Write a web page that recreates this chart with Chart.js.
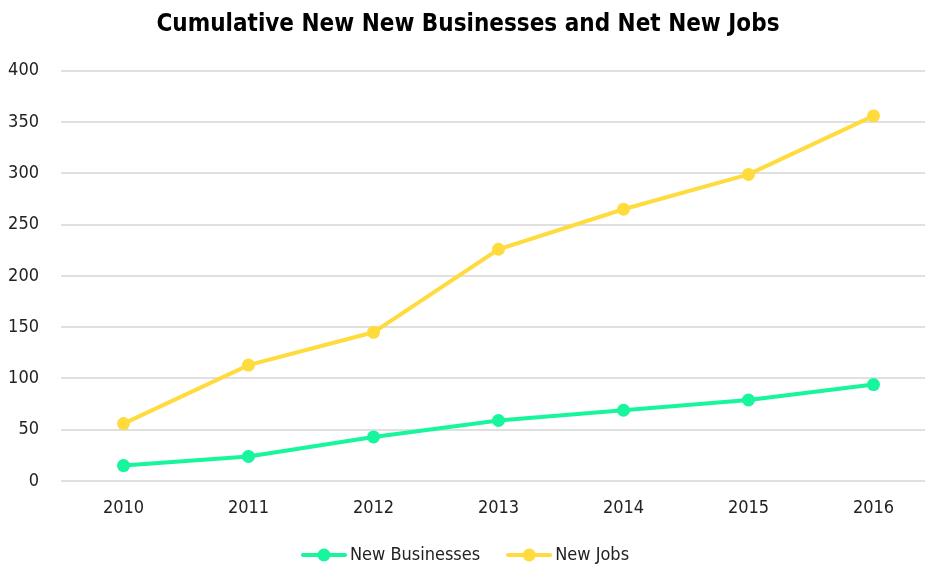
<!DOCTYPE html>
<html>
<head>
<meta charset="utf-8">
<script src="https://cdn.jsdelivr.net/npm/chart.js@4/dist/chart.umd.min.js"></script>
<style>
  html, body { margin: 0; padding: 0; background: #fff; }
  #wrap { width: 925px; height: 567px; overflow: hidden; }
  canvas { display: block; }
</style>
</head>
<body>
<div id="wrap"><canvas id="chart" width="960" height="567"></canvas></div>
<script>
const years = ["2010", "2011", "2012", "2013", "2014", "2015", "2016"];
const newBusinesses = [15, 24, 43, 59, 69, 79, 94];
const newJobs = [56, 113, 145, 226, 265, 299, 356];

const GREEN = "#17F59D";
const YELLOW = "#FFDB3E";
const FONT = "'DejaVu Sans Condensed', sans-serif";

// legend icon: short line with a dot in the middle
const legendIcon = (color) => {
  const c = document.createElement("canvas");
  c.width = 46; c.height = 16;
  const g = c.getContext("2d");
  g.strokeStyle = color;
  g.lineWidth = 4;
  g.lineCap = "round";
  g.beginPath(); g.moveTo(2, 8); g.lineTo(44, 8); g.stroke();
  g.fillStyle = color;
  g.beginPath(); g.arc(23, 8, 6.5, 0, Math.PI * 2); g.fill();
  return c;
};

new Chart(document.getElementById("chart"), {
  type: "line",
  data: {
    labels: years,
    datasets: [
      {
        label: "New Businesses",
        data: newBusinesses,
        borderColor: GREEN,
        backgroundColor: GREEN,
        borderWidth: 4,
        pointRadius: 6.5,
        pointBackgroundColor: GREEN,
        pointBorderWidth: 0,
        tension: 0
      },
      {
        label: "New Jobs",
        data: newJobs,
        borderColor: YELLOW,
        backgroundColor: YELLOW,
        borderWidth: 4,
        pointRadius: 6.5,
        pointBackgroundColor: YELLOW,
        pointBorderWidth: 0,
        tension: 0
      }
    ]
  },
  options: {
    responsive: false,
    animation: false,
    layout: { padding: { right: 24, top: 0, bottom: -7 } },
    plugins: {
      title: {
        display: true,
        text: "Cumulative New New Businesses and Net New Jobs",
        color: "#000",
        font: { family: FONT, size: 24, weight: "bold" },
        padding: { top: 10, bottom: 32 }
      },
      legend: {
        position: "bottom",
        labels: {
          color: "#222",
          font: { family: FONT, size: 18 },
          usePointStyle: true,
          pointStyleWidth: 34,
          boxHeight: 16,
          padding: 32,
          generateLabels: (chart) => chart.data.datasets.map((ds, i) => ({
            text: ds.label,
            pointStyle: legendIcon(ds.borderColor),
            fillStyle: ds.borderColor,
            strokeStyle: ds.borderColor,
            lineWidth: 0,
            hidden: false,
            datasetIndex: i,
            fontColor: "#222"
          }))
        }
      },
      tooltip: { enabled: false }
    },
    scales: {
      x: {
        offset: true,
        afterFit: (s) => { s.height = 33; },
        grid: { display: false, drawTicks: false },
        border: { display: false },
        ticks: { color: "#222", font: { family: FONT, size: 18 }, padding: 17 }
      },
      y: {
        min: 0,
        max: 400,
        afterFit: (s) => { s.width = 61; },
        grid: { color: "#e0e0e0", lineWidth: 2, drawTicks: false },
        border: { display: false },
        ticks: { stepSize: 50, color: "#222", font: { family: FONT, size: 18 }, padding: 22 }
      }
    }
  }
});
</script>
</body>
</html>
